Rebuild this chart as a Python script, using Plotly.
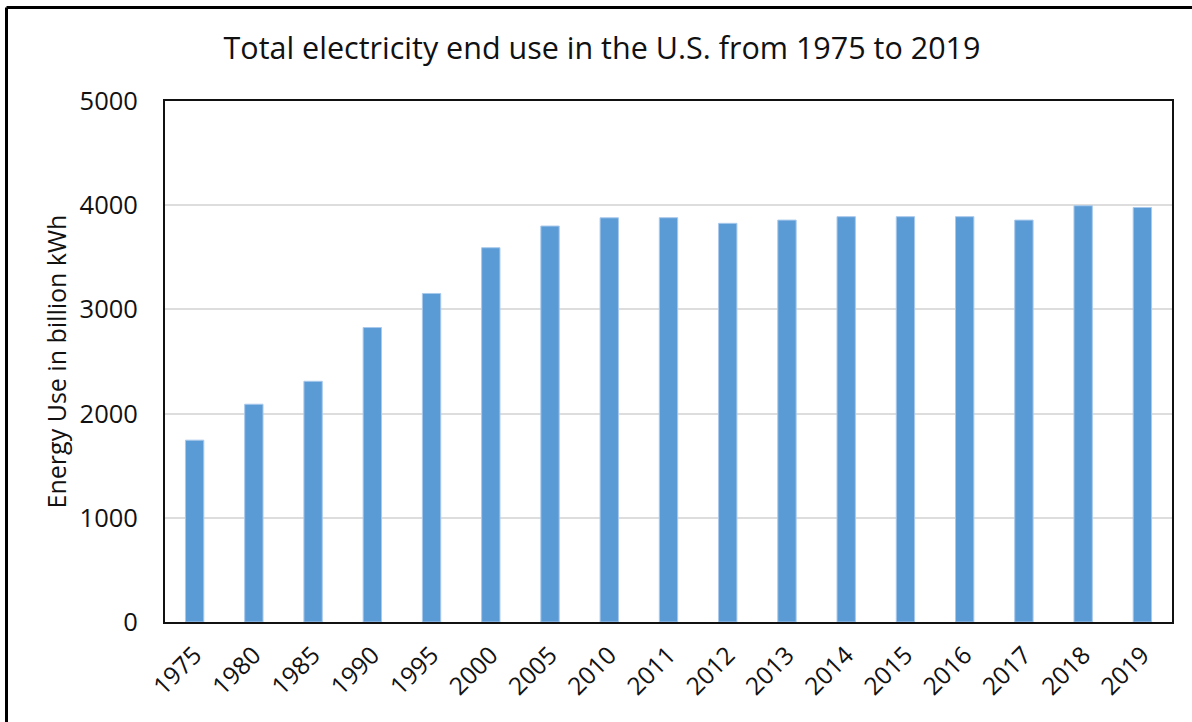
import plotly.graph_objects as go

years = ["1975", "1980", "1985", "1990", "1995", "2000", "2005", "2010", "2011",
         "2012", "2013", "2014", "2015", "2016", "2017", "2018", "2019"]
energy_use = [1745, 2090, 2310, 2826, 3153, 3592, 3800, 3879, 3880,
              3826, 3857, 3890, 3890, 3890, 3857, 3995, 3978]
y_ticks = [0, 1000, 2000, 3000, 4000, 5000]

FONT = "Open Sans"
W, H = 1192, 722
ml, mr, mt, mb = 165, 20, 101, 99.5
pw = W - ml - mr
ph = H - mt - mb

fig = go.Figure(go.Bar(
    x=years, y=energy_use,
    marker=dict(color="#5B9BD5", line=dict(color="#A9C9EC", width=1)),
    hoverinfo="x+y",
))

def px2paper_x(px):
    return (px - ml) / pw

def py2paper_y(py):
    return (H - mb - py) / ph

fig.update_layout(
    width=W, height=H,
    margin=dict(l=ml, r=mr, t=mt, b=mb),
    paper_bgcolor="white", plot_bgcolor="white",
    bargap=0.69,
    showlegend=False,
    title=dict(text="Total electricity end use in the U.S. from 1975 to 2019",
               font=dict(family=FONT, size=30.5, color="#111111"),
               x=602 / W, xref="container", xanchor="center",
               y=1 - 48 / H, yref="container", yanchor="middle"),
    xaxis=dict(type="category", tickangle=-45,
               tickfont=dict(family=FONT, size=24.5, color="#111111"),
               ticklabelstandoff=7,
               showline=True, linecolor="#111111", linewidth=2, mirror=True,
               ticks="", showgrid=False),
    yaxis=dict(range=[0, 5000], tickvals=y_ticks,
               tickfont=dict(family=FONT, size=25.5, color="#111111"),
               ticklabelstandoff=20,
               showline=True, linecolor="#111111", linewidth=2, mirror=True,
               ticks="", showgrid=True, gridcolor="#DDDDDD", gridwidth=1.5,
               zeroline=False,
               title=dict(text="Energy Use in billion kWh",
                          font=dict(family=FONT, size=25, color="#111111"),
                          standoff=6)),
    shapes=[
        dict(type="line", xref="paper", yref="paper",
             x0=px2paper_x(6.5), x1=px2paper_x(6.5),
             y0=py2paper_y(7.5), y1=py2paper_y(730),
             line=dict(color="black", width=3)),
        dict(type="line", xref="paper", yref="paper",
             x0=px2paper_x(6.5), x1=px2paper_x(1200),
             y0=py2paper_y(7.5), y1=py2paper_y(7.5),
             line=dict(color="black", width=3)),
    ],
)

fig.write_html("out.html")
